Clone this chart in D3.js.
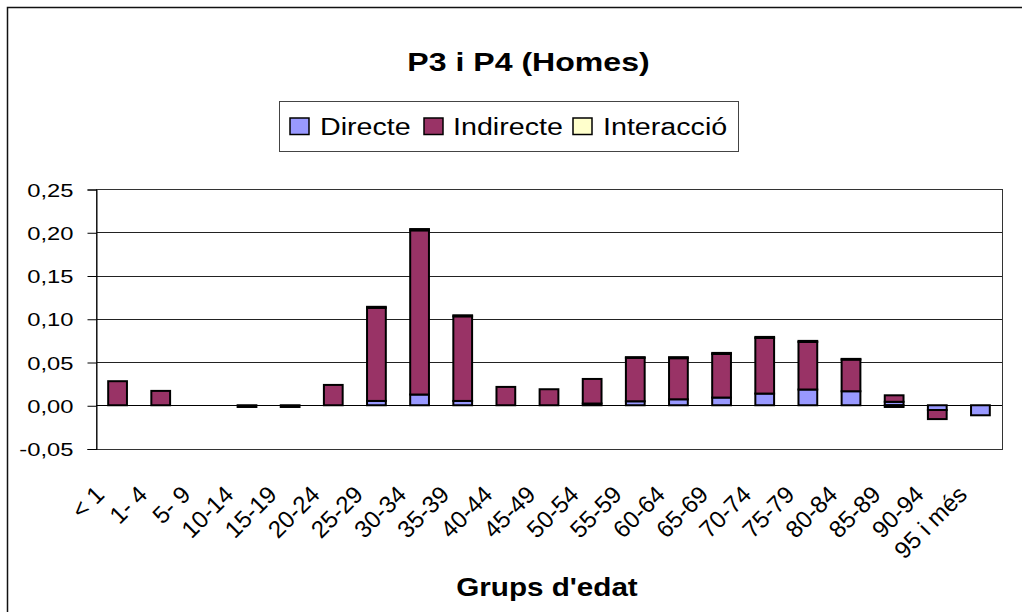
<!DOCTYPE html>
<html>
<head>
<meta charset="utf-8">
<script src="https://cdn.jsdelivr.net/npm/d3@7"></script>
<style>
  html, body { margin: 0; padding: 0; background: #fff; }
  svg { display: block; font-family: Arial, "Liberation Sans", sans-serif; }
</style>
</head>
<body>
<svg id="chart" width="1022" height="612"></svg>
<script>
const categories = ["< 1","1- 4","5- 9","10-14","15-19","20-24","25-29","30-34","35-39","40-44","45-49","50-54","55-59","60-64","65-69","70-74","75-79","80-84","85-89","90-94","95 i més"];
const seriesNames = ["Directe","Indirecte","Interacció"];
const directe    = [0, 0, 0, 0, 0, 0, 0.005, 0.0124, 0.005, 0, 0, 0.002, 0.0046, 0.0069, 0.0089, 0.0135, 0.0182, 0.0162, 0.004, -0.0055, -0.0116];
const indirecte  = [0.0278, 0.0166, 0, -0.002, -0.002, 0.0235, 0.1076, 0.1898, 0.0978, 0.0212, 0.0185, 0.0284, 0.0502, 0.0475, 0.0504, 0.0643, 0.055, 0.0366, 0.0075, -0.0105, 0];
const interaccio = [0, 0, 0, 0, 0, 0, 0.0012, 0.0015, 0.0012, 0, 0, 0, 0.0008, 0.0012, 0.0012, 0.0012, 0.0012, 0.0008, -0.002, 0, 0];
const yTicks = [-0.05, 0, 0.05, 0.10, 0.15, 0.20, 0.25];
const chartTitle = "P3 i P4 (Homes)";
const xTitle = "Grups d'edat";
const colors = {"Directe": "#9999FF", "Indirecte": "#993366", "Interacció": "#FFFFCC"};

const svg = d3.select("#chart");

// outer chart border (extends beyond the visible area)
svg.append("rect").attr("x", 7.5).attr("y", 7.5).attr("width", 1100).attr("height", 700)
  .attr("fill", "#fff").attr("stroke", "#111").attr("stroke-width", 1.5);

const plot = {left: 96, right: 1002, top: 189, bottom: 448.5};
const x = d3.scaleBand().domain(categories).range([plot.left, plot.right])
  .paddingInner(0.565).paddingOuter(0.2825);
const y = d3.scaleLinear().domain([-0.05, 0.25]).range([plot.bottom, plot.top]);

const fmt = v => Math.abs(v) < 1e-9 ? "0,00" : v.toFixed(2).replace(".", ",");

// gridlines
svg.append("g").selectAll("line").data(yTicks.filter(t => t > -0.05)).join("line")
  .attr("x1", plot.left).attr("x2", plot.right)
  .attr("y1", d => Math.round(y(d)) + 0.5).attr("y2", d => Math.round(y(d)) + 0.5)
  .attr("stroke", "#222").attr("stroke-width", 1);

// plot frame
svg.append("rect").attr("x", plot.left + 0.5).attr("y", Math.round(plot.top) + 0.5)
  .attr("width", plot.right - plot.left).attr("height", Math.round(plot.bottom) - Math.round(plot.top))
  .attr("fill", "none").attr("stroke", "#333").attr("stroke-width", 1);

// y axis
const yAxis = d3.axisLeft(y).tickValues(yTicks).tickSize(9).tickPadding(14).tickFormat(() => "");
const yg = svg.append("g").attr("transform", `translate(${plot.left + 0.5},0.5)`).call(yAxis);
yg.select(".domain").attr("stroke", "#000");
yg.selectAll(".tick line").attr("stroke", "#000");
yg.selectAll(".tick").append("text")
  .attr("transform", "translate(-23,0) scale(1.25,1)")
  .attr("text-anchor", "end").attr("dy", "0.35em")
  .attr("fill", "#000").attr("font-size", 19).style("font-family", "Arial, 'Liberation Sans', sans-serif")
  .text(d => fmt(d));

// stacked bars
const rows = categories.map((c, i) => ({cat: c, "Directe": directe[i], "Indirecte": indirecte[i], "Interacció": interaccio[i]}));
const stack = d3.stack().keys(seriesNames).offset(d3.stackOffsetDiverging);
const stacked = stack(rows);
svg.append("g").selectAll("g").data(stacked).join("g")
  .attr("fill", d => colors[d.key])
  .selectAll("rect").data(d => d.filter(s => Math.abs(s[1] - s[0]) > 1e-9)).join("rect")
  .attr("x", d => x(d.data.cat))
  .attr("width", x.bandwidth())
  .attr("y", d => y(Math.max(d[0], d[1])))
  .attr("height", d => Math.abs(y(d[0]) - y(d[1])))
  .attr("stroke", "#000").attr("stroke-width", 2);

// zero line
svg.append("line").attr("x1", plot.left).attr("x2", plot.right)
  .attr("y1", Math.round(y(0)) + 0.5).attr("y2", Math.round(y(0)) + 0.5)
  .attr("stroke", "#000").attr("stroke-width", 1);

// x labels
svg.append("g").selectAll("text").data(categories).join("text")
  .attr("transform", d => `translate(${x(d) + x.bandwidth() / 2 - 12},496) rotate(-45)`)
  .attr("text-anchor", "end").attr("font-size", 24).attr("fill", "#000")
  .text(d => d);

// title
svg.append("text").attr("transform", "translate(528.5,71) scale(1.21,1)")
  .attr("text-anchor", "middle").attr("font-size", 26.5).attr("font-weight", "bold")
  .text(chartTitle);

// x axis title
svg.append("text").attr("transform", "translate(547,596) scale(1.14,1)")
  .attr("text-anchor", "middle").attr("font-size", 26).attr("font-weight", "bold")
  .text(xTitle);

// legend
svg.append("rect").attr("x", 279.5).attr("y", 101.5).attr("width", 459).attr("height", 50)
  .attr("fill", "#fff").attr("stroke", "#444").attr("stroke-width", 1);
const legendPos = [{sq: 290, tx: 320}, {sq: 424, tx: 453}, {sq: 573, tx: 603}];
const lg = svg.append("g").selectAll("g").data(seriesNames).join("g");
lg.append("rect").attr("x", (d, i) => legendPos[i].sq).attr("y", 118)
  .attr("width", 19).attr("height", 16.5)
  .attr("fill", d => colors[d]).attr("stroke", "#000").attr("stroke-width", 1.5);
lg.append("text").attr("transform", (d, i) => `translate(${legendPos[i].tx},134.5) scale(1.17,1)`)
  .attr("font-size", 24.5).attr("fill", "#000").text(d => d);
</script>
</body>
</html>
